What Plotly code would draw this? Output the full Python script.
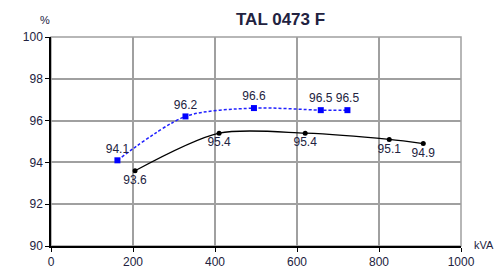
import plotly.graph_objects as go

title = "TAL 0473 F"
blue_x = [162, 328, 495, 658, 723]
blue_y = [94.1, 96.2, 96.6, 96.5, 96.5]
black_x = [205, 410, 620, 825, 908]
black_y = [93.6, 95.4, 95.4, 95.1, 94.9]
x_ticks = [0, 200, 400, 600, 800, 1000]
y_ticks = [90, 92, 94, 96, 98, 100]

txt_color = "#222240"
font_fam = "Liberation Sans, Arial, sans-serif"

fig = go.Figure()
fig.add_trace(go.Scatter(
    x=black_x, y=black_y, mode="lines+markers+text",
    line=dict(color="black", width=1.3, shape="spline", smoothing=0.8),
    marker=dict(color="black", size=5, symbol="circle"),
    text=[f"{v:.1f}" for v in black_y], textposition="bottom center",
    textfont=dict(size=12, color=txt_color, family=font_fam),
    cliponaxis=False, showlegend=False))
fig.add_trace(go.Scatter(
    x=blue_x, y=blue_y, mode="lines+markers+text",
    line=dict(color="#2020ff", width=1.5, dash="3px,2px", shape="spline", smoothing=0.8),
    marker=dict(color="#0000ff", size=6, symbol="square"),
    text=[f"{v:.1f}" for v in blue_y], textposition="top center",
    textfont=dict(size=12, color=txt_color, family=font_fam),
    cliponaxis=False, showlegend=False))

# page has an 8px body margin: figure starts at (8, 8)
OFF = 8
W, H = 503 - OFF, 270 - OFF
l, r, t, b = 51 - OFF, 42, 37 - OFF, 24
pw, ph = W - l - r, H - t - b

def px(x, y):
    # x, y in window pixels
    return (x - OFF - l) / pw, (H - b - (y - OFF)) / ph

ann = []
for text, x, y, size in [("<b>" + title + "</b>", 280, 20, 17), ("%", 45, 20, 11), ("kVA", 484, 245, 11)]:
    ax, ay = px(x, y)
    ann.append(dict(text=text, x=ax, y=ay, xref="paper", yref="paper", showarrow=False,
                    font=dict(size=size, color=txt_color), xanchor="center", yanchor="middle"))

fig.update_layout(
    width=W, height=H,
    margin=dict(l=l, r=r, t=t, b=b, autoexpand=False),
    paper_bgcolor="white", plot_bgcolor="white",
    font=dict(family=font_fam, size=12, color=txt_color),
    annotations=ann,
)

common = dict(showgrid=True, gridcolor="#a0a0a0", gridwidth=1.5,
              showline=True, linecolor="black", linewidth=1.5, mirror=False,
              ticks="outside", ticklen=4, tickcolor="black", zeroline=False,
              automargin=False, tickfont=dict(size=12, color=txt_color))
fig.update_xaxes(range=[0, 1000], tickvals=x_ticks, **common)
fig.update_yaxes(range=[90, 100], tickvals=y_ticks, **common)
fig.add_shape(type="rect", xref="paper", yref="paper", x0=0, y0=0, x1=1, y1=1,
              line=dict(color="#a0a0a0", width=1.5), layer="below")

fig.write_html("out.html")
